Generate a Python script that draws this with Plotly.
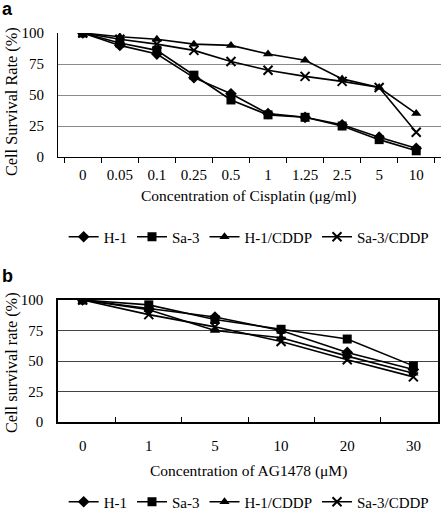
import plotly.graph_objects as go

# Panel a data
cis_conc = ["0", "0.05", "0.1", "0.25", "0.5", "1", "1.25", "2.5", "5", "10"]
a_h1 = [100, 90, 83, 64, 51, 35, 32, 26, 16, 7]
a_sa3 = [100, 92, 86, 66, 46, 34, 32, 25, 14, 5]
a_h1cddp = [100, 97, 95, 91, 90, 83, 78, 63, 56, 35]
a_sa3cddp = [100, 95, 91, 86, 77, 70, 65, 61, 56, 20]

# Panel b data
ag_conc = ["0", "1", "5", "10", "20", "30"]
b_h1 = [100, 93, 86, 75, 57, 43]
b_sa3 = [100, 96, 84, 76, 68, 46]
b_h1cddp = [100, 92, 75, 69, 54, 40]
b_sa3cddp = [100, 88, 78, 66, 51, 37]

names = ["H-1", "Sa-3", "H-1/CDDP", "Sa-3/CDDP"]
symbols = ["diamond", "square", "triangle-up", "x-thin"]

W, H = 441, 511
SERIF = "Liberation Serif"

fig = go.Figure()

def add_series(xcats, series, xa, ya, leg):
    for nm, vals, sym in zip(names, series, symbols):
        fig.add_trace(go.Scatter(
            x=xcats, y=vals, name=nm, mode="lines+markers",
            xaxis=xa, yaxis=ya, legend=leg,
            line=dict(color="black", width=1.6),
            marker=dict(symbol=sym, size=9, color="black",
                        line=dict(color="black", width=2 if sym == "x-thin" else 0)),
        ))

add_series(cis_conc, [a_h1, a_sa3, a_h1cddp, a_sa3cddp], "x", "y", "legend")
add_series(ag_conc, [b_h1, b_sa3, b_h1cddp, b_sa3cddp], "x2", "y2", "legend2")

def py(p):
    return 1 - p / H

x0 = 58 / W
tickfont = dict(family=SERIF, size=15, color="black")
legfont = dict(family=SERIF, size=15, color="black")

fig.update_layout(
    width=W, height=H,
    margin=dict(l=0, r=0, t=0, b=0, autoexpand=False),
    paper_bgcolor="white", plot_bgcolor="white",
    showlegend=True,
    xaxis=dict(domain=[x0, 1], anchor="y", type="category", automargin=False,
               tickson="boundaries", ticks="outside", ticklen=5, tickcolor="black",
               showline=True, linecolor="black", linewidth=1.2,
               showgrid=False, tickfont=tickfont, ticklabelstandoff=4),
    yaxis=dict(domain=[py(157), py(33)], anchor="x", range=[0, 100], automargin=False,
               tickvals=[0, 25, 50, 75, 100], showline=True, linecolor="black",
               linewidth=1.2, showgrid=True, gridcolor="#8a8a8a", gridwidth=1,
               ticks="", tickfont=tickfont, zeroline=False, ticklabelstandoff=10),
    xaxis2=dict(domain=[x0, 438 / W], anchor="y2", type="category", automargin=False,
                tickson="boundaries", ticks="inside", ticklen=5, tickcolor="black",
                showline=True, linecolor="black", linewidth=1.5, mirror=True,
                showgrid=False, tickfont=tickfont, ticklabelstandoff=9),
    yaxis2=dict(domain=[py(422), py(300)], anchor="x2", range=[0, 100], automargin=False,
                tickvals=[0, 25, 50, 75, 100], showline=True, linecolor="black",
                linewidth=1.5, mirror=True, showgrid=True, gridcolor="#444444",
                gridwidth=1, ticks="", tickfont=tickfont, zeroline=False,
                ticklabelstandoff=10),
    legend=dict(orientation="h", x=0.565, xanchor="center", y=py(237), yanchor="middle",
                font=legfont, bgcolor="rgba(0,0,0,0)", itemwidth=30, tracegroupgap=0),
    legend2=dict(orientation="h", x=0.565, xanchor="center", y=py(502), yanchor="middle",
                 font=legfont, bgcolor="rgba(0,0,0,0)", itemwidth=30, tracegroupgap=0),
)

ann = [
    dict(text="<b>a</b>", x=0, y=py(9), xanchor="left", yanchor="middle",
         font=dict(family="Liberation Sans", size=18, color="black")),
    dict(text="<b>b</b>", x=0, y=py(276), xanchor="left", yanchor="middle",
         font=dict(family="Liberation Sans", size=18, color="black")),
    dict(text="Concentration of Cisplatin (μg/ml)", x=(140 + 358) / 2 / W, y=py(196),
         xanchor="center", yanchor="middle",
         font=dict(family=SERIF, size=15.5, color="black")),
    dict(text="Concentration of AG1478 (μM)", x=(58 + 438) / 2 / W, y=py(471),
         xanchor="center", yanchor="middle",
         font=dict(family=SERIF, size=15.5, color="black")),
    dict(text="Cell Survival Rate (%)", x=11 / W, y=py(102), textangle=-90,
         xanchor="center", yanchor="middle",
         font=dict(family=SERIF, size=16.3, color="black")),
    dict(text="Cell survival rate (%)", x=11 / W, y=py(363), textangle=-90,
         xanchor="center", yanchor="middle",
         font=dict(family=SERIF, size=16.3, color="black")),
]
for a in ann:
    a.update(xref="paper", yref="paper", showarrow=False)
fig.update_layout(annotations=ann)

fig.write_html("out.html", config={"displayModeBar": False},
               post_script="document.body.style.margin='0';document.body.style.overflow='hidden';")
